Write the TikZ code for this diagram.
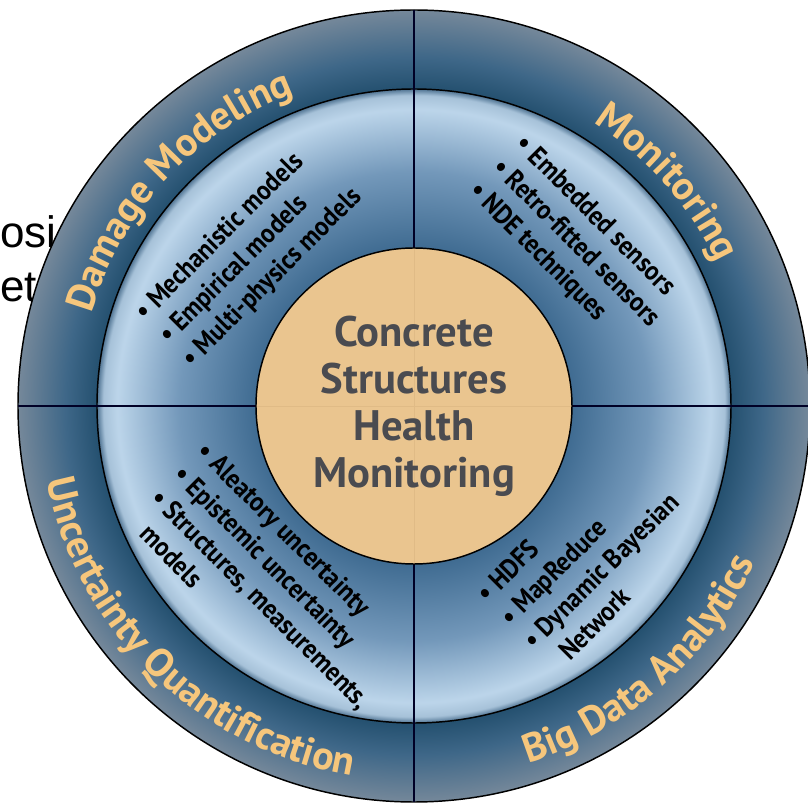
\documentclass[tikz,border=0pt]{standalone}
\usepackage{fontspec}
\setmainfont{PT Sans}
\newfontfamily\itemfont[FakeStretch=0.9]{PT Sans}
\newfontfamily\backfont{Liberation Sans}
\usetikzlibrary{decorations.text}
\definecolor{ringdark}{HTML}{24506F}
\definecolor{ringmid}{HTML}{3E6788}
\definecolor{ringgray}{HTML}{75889A}
\definecolor{ringblue}{HTML}{3F6B91}
\definecolor{ringsky}{HTML}{7398BA}
\definecolor{ringpale}{HTML}{BCD5EA}
\definecolor{ringedge}{HTML}{4F7392}
\definecolor{coretan}{HTML}{EAC58F}
\definecolor{corerule}{HTML}{E0BB86}
\definecolor{centergray}{HTML}{4A4B50}
\definecolor{labelorange}{HTML}{F6C67C}
\pgfdeclareradialshading{outerring}{\pgfpoint{0bp}{0bp}}{color(0bp)=(ringdark); color(20bp)=(ringdark); color(22bp)=(ringmid); color(25bp)=(ringgray); color(50bp)=(ringgray)}
\pgfdeclareradialshading{innerring}{\pgfpoint{0bp}{0bp}}{color(0bp)=(ringblue); color(12.4bp)=(ringblue); color(18.5bp)=(ringsky); color(23.4bp)=(ringpale); color(24.5bp)=(ringpale!80!ringedge); color(25bp)=(ringedge); color(50bp)=(ringedge)}
\newcommand\ringfont{\bfseries\fontsize{30}{34}\selectfont}
\begin{document}
\begin{tikzpicture}[x=0.75pt,y=0.75pt,
  ringline/.style={line width=1.1pt,black},
  crossline/.style={line width=1.4pt,black!85!blue},
  ringlabel/.style={decorate,decoration={text along path,text align=center,text color=labelorange,text={|\ringfont|#1}}},
  itemlist/.style={font=\itemfont\bfseries\fontsize{20.5}{24.75}\selectfont,align=left,inner sep=0pt,anchor=west}]
  \useasboundingbox (-414,-397) rectangle (394,406);
  \node[anchor=base west,inner sep=0pt,font=\backfont\fontsize{33}{40}\selectfont] (osi) at (-414,158) {osi};
  \node[anchor=base west,inner sep=0pt,font=\backfont\fontsize{33}{40}\selectfont] (et) at (-414,104) {et};
  \shade[shading=outerring] (0,0) circle[radius=396];
  \draw[ringline] (0,0) circle[radius=396];
  \shade[shading=innerring] (0,0) circle[radius=317];
  \draw[ringline] (0,0) circle[radius=317];
  \draw[crossline] (0,396) -- (0,-396) (-396,0) -- (396,0);
  \fill[coretan] (0,0) circle[radius=158];
  \draw[corerule,line width=0.6pt] (0,158) -- (0,-158) (-158,0) -- (158,0);
  \draw[ringline] (0,0) circle[radius=158];
  \path[ringlabel={Damage Modeling}] (182.5:335) arc[start angle=182.5,end angle=92.5,radius=335];
  \path[ringlabel=Monitoring] (86.5:335) arc[start angle=86.5,end angle=-3.5,radius=335];
  \path[ringlabel={Uncertainty Quantification}] (181:375) arc[start angle=181,end angle=271,radius=375];
  \path[ringlabel={Big Data Analytics}] (266.5:375) arc[start angle=266.5,end angle=356.5,radius=375];
  \node[font=\bfseries\fontsize{32}{35.25}\selectfont,text=centergray,align=center,inner sep=0pt] (title) at (0,0) {Concrete\\Structures\\Health\\Monitoring};
  \node[itemlist,rotate=45] (dmlist) at (-250,65.7) {\textbullet\ Mechanistic models\\\textbullet\ Empirical models\\\textbullet\ Multi-physics models};
  \node[itemlist,rotate=-45] (molist) at (82,241.8) {\textbullet\ Embedded sensors\\\textbullet\ Retro-fitted sensors\\\textbullet\ NDE techniques};
  \node[itemlist,rotate=-45] (uqlist) at (-246.7,-75.6) {\textbullet\ Aleatory uncertainty\\\textbullet\ Epistemic uncertainty\\\textbullet\ Structures, measurements,\\\hphantom{\textbullet\ }models};
  \node[itemlist,rotate=45] (bdlist) at (101.8,-226.2) {\textbullet\ HDFS\\\textbullet\ MapReduce\\\textbullet\ Dynamic Bayesian\\\hphantom{\textbullet\ }Network};
\end{tikzpicture}
\end{document}
